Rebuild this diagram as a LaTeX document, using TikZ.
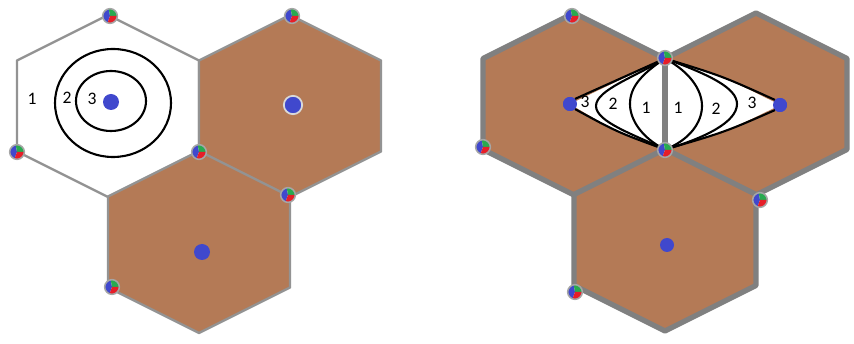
\documentclass[tikz,border=0pt]{standalone}
\usepackage{fontspec}
\setmainfont{Carlito}
\usepackage{tikz}
\usetikzlibrary{positioning, calc}
\usepackage{xcolor}
\definecolor{cellbrown}{RGB}{180,122,86}
\definecolor{siteblue}{RGB}{64,72,205}
\definecolor{sitegreen}{RGB}{40,170,80}
\definecolor{sitered}{RGB}{230,30,40}

\tikzset{
  lefthex/.style={draw=gray!85, line width=2pt, line join=round},
  righthex/.style={draw=gray, line width=4.5pt, line join=round},
  zone/.style={black, line width=1.8pt},
  bsdot/.style={circle, fill=siteblue, minimum size=0.48cm, inner sep=0pt},
  lbl/.style={font=\fontsize{15}{18}\selectfont, inner sep=0pt},
  site/.style={circle, draw=gray!70, line width=1.3pt, fill=white, minimum size=0.44cm, inner sep=0pt,
    path picture={
      \coordinate (pc) at (path picture bounding box.center);
      \fill[siteblue] (pc) -- ++(100:0.22cm) arc[start angle=100, end angle=250, radius=0.22cm] -- cycle;
      \fill[sitegreen] (pc) -- ++(0:0.22cm) arc[start angle=0, end angle=100, radius=0.22cm] -- cycle;
      \fill[sitered] (pc) -- ++(250:0.22cm) arc[start angle=250, end angle=360, radius=0.22cm] -- cycle;
    }},
}

\begin{document}
\begin{tikzpicture}[x=0.03cm, y=-0.03cm]
  \useasboundingbox (0,0) rectangle (854,344);

  % left cluster
  \foreach \cx/\cy/\fc in {108/106/white, 290/106/cellbrown, 199/242/cellbrown}
    \filldraw[lefthex, fill=\fc] (\cx,\cy) ++(0,-91) -- ++(91,45.5) -- ++(0,91) -- ++(-91,45.5) -- ++(-91,-45.5) -- ++(0,-91) -- cycle;

  \draw[zone] (113,103) ellipse [x radius=58, y radius=54];
  \draw[zone] (111,101) ellipse [x radius=35, y radius=30];

  \node[bsdot] (a0) at (111,102) {};
  \node[bsdot, draw=gray!30, line width=1.5pt, minimum size=0.55cm] (b0) at (293,105) {};
  \node[bsdot] (c0) at (202,252) {};

  \node[lbl] (l1) at (32,99) {1};
  \node[lbl] (l2) at (67,98) {2};
  \node[lbl] (l3) at (92,99) {3};

  \foreach \sx/\sy [count=\i] in {110/16, 17/152, 199/152, 292/16, 288/195, 112/287}
    \node[site] (ls\i) at (\sx,\sy) {};

  % right cluster
  \foreach \cx/\cy in {574/104, 756/104, 665/240}
    \filldraw[righthex, fill=cellbrown] (\cx,\cy) ++(0,-91) -- ++(91,45.5) -- ++(0,91) -- ++(-91,45.5) -- ++(-91,-45.5) -- ++(0,-91) -- cycle;

  \coordinate (top) at (665,58.5);
  \coordinate (bot) at (665,149.5);
  \node[bsdot, minimum size=0.42cm] (d0) at (570,104) {};
  \node[bsdot, minimum size=0.42cm] (e0) at (780,105) {};
  \node[bsdot, minimum size=0.42cm] (f0) at (667,245) {};

  \fill[white] (top) -- (d0.center) .. controls (617,132) .. (bot)
    .. controls (725,132) .. (e0.center) .. controls (722,76) .. (top);
  \draw[righthex] (top) -- (bot);
  \node[bsdot, minimum size=0.42cm] at (d0) {};
  \node[bsdot, minimum size=0.42cm] at (e0) {};

  \draw[zone] (top) -- (d0.north east) (d0.south east) .. controls (617,132) .. (bot);
  \draw[zone] (top) .. controls (635,77) and (596,90) .. (596,106) .. controls (596,122) and (635,135) .. (bot);
  \draw[zone] (top) .. controls (640,75) and (630,88) .. (630,104) .. controls (630,120) and (642,138) .. (bot);
  \draw[zone] (top) .. controls (690,72) and (702,90) .. (702,106) .. controls (702,122) and (690,140) .. (bot);
  \draw[zone] (top) .. controls (710,75) and (737,88) .. (737,104) .. controls (737,122) and (705,138) .. (bot);
  \draw[zone] (top) .. controls (722,76) .. (e0.north west) (e0.south west) .. controls (725,132) .. (bot);

  \node[lbl] (r3a) at (585,102) {3};
  \node[lbl] (r2a) at (613,104) {2};
  \node[lbl] (r1a) at (646,108) {1};
  \node[lbl] (r1b) at (678,108) {1};
  \node[lbl] (r2b) at (716,109) {2};
  \node[lbl] (r3b) at (752,103) {3};

  \foreach \sx/\sy [count=\i] in {572/16, 483/147, 665/58, 665/150, 760/200, 575/292}
    \node[site] (rs\i) at (\sx,\sy) {};
\end{tikzpicture}
\end{document}
